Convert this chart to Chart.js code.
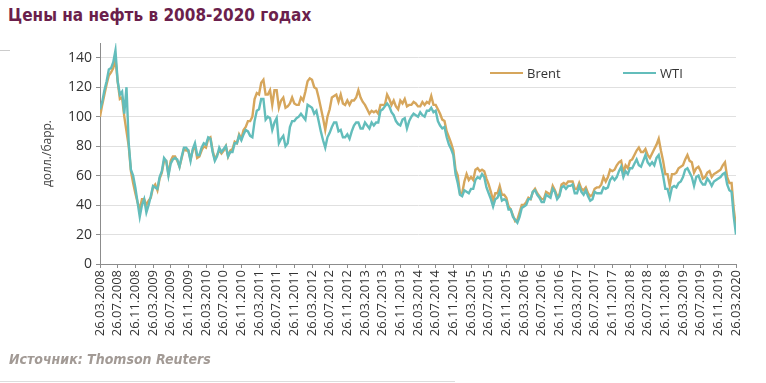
<!DOCTYPE html>
<html lang="ru">
<head>
    <meta charset="UTF-8">
    <title>Цены на нефть в 2008-2020 годах</title>
    <script src="https://cdn.jsdelivr.net/npm/chart.js"></script>
    <style>
        body {
            margin: 0;
            width: 766px;
            height: 383px;
            background: #fff;
            position: relative;
            overflow: hidden;
            font-family: "DejaVu Sans Condensed", "DejaVu Sans", sans-serif;
        }
        h1 {
            position: absolute;
            left: 8px;
            top: 5px;
            margin: 0;
            font-size: 17px;
            font-weight: bold;
            color: #6b1f4c;
        }
        .source {
            position: absolute;
            left: 9px;
            top: 351px;
            font-size: 14px;
            font-weight: bold;
            font-style: italic;
            color: #a29a95;
        }
        .frame-left {
            position: absolute;
            left: 0; top: 50px;
            width: 10px; height: 1px;
            background: #ccc;
        }
        .frame-bottom {
            position: absolute;
            left: 0; top: 381px;
            width: 455px; height: 1px;
            background: #ddd;
        }
        .legend {
            position: absolute;
            top: 64px;
            font-family: "Open Sans", sans-serif;
            font-size: 13px;
            color: #333;
            display: flex;
            align-items: center;
        }
        .legend i {
            display: inline-block;
            width: 33px;
            height: 2px;
            margin-right: 4px;
        }
        #wrap {
            position: absolute;
            left: 0; top: 0;
            width: 766px; height: 383px;
        }
    </style>
</head>
<body>
    <h1>Цены на нефть в 2008-2020 годах</h1>
    <div class="frame-left"></div>
    <div class="frame-bottom"></div>

    <div id="wrap"><canvas id="oilChart"></canvas></div>

    <div class="legend" style="left:490px"><i style="background:#d6a65c"></i>Brent</div>
    <div class="legend" style="left:623px"><i style="background:#63bdbb"></i>WTI</div>

    <div class="source">Источник: Thomson Reuters</div>

    <script>
        // tick labels every 4 months
        const tickLabels = [
            '26.03.2008', '26.07.2008', '26.11.2008',
            '26.03.2009', '26.07.2009', '26.11.2009',
            '26.03.2010', '26.07.2010', '26.11.2010',
            '26.03.2011', '26.07.2011', '26.11.2011',
            '26.03.2012', '26.07.2012', '26.11.2012',
            '26.03.2013', '26.07.2013', '26.11.2013',
            '26.03.2014', '26.07.2014', '26.11.2014',
            '26.03.2015', '26.07.2015', '26.11.2015',
            '26.03.2016', '26.07.2016', '26.11.2016',
            '26.03.2017', '26.07.2017', '26.11.2017',
            '26.03.2018', '26.07.2018', '26.11.2018',
            '26.03.2019', '26.07.2019', '26.11.2019',
            '26.03.2020'
        ];
        const yTicks = [0, 20, 40, 60, 80, 100, 120, 140];

        // prices, USD/bbl, sampled twice a month (26th and 10th) from 26.03.2008
        const brent = [
            100, 108, 115, 122, 128, 130, 133, 139, 124, 112, 113, 100, 90, 80, 63, 55, 48, 42, 37, 44, 44, 40, 43, 45,
            52, 54, 50, 58, 62, 70, 70, 61, 70, 73, 73, 70, 66, 72, 78, 77, 77, 71, 77, 80, 72, 73, 77, 80,
            79, 85, 86, 77, 71, 74, 77, 75, 77, 80, 73, 77, 78, 83, 82, 88, 85, 91, 93, 97, 97, 100, 112, 116,
            115, 123, 125, 115, 115, 118, 108, 118, 118, 106, 111, 113, 106, 107, 109, 113, 109, 108, 108, 113, 111, 117, 124, 126,
            125, 120, 119, 113, 106, 99, 91, 100, 105, 113, 114, 115, 110, 115, 109, 108, 111, 108, 111, 111, 113, 118, 113, 110,
            108, 105, 102, 104, 103, 104, 102, 108, 108, 108, 115, 112, 108, 111, 107, 105, 111, 109, 112, 107, 108, 108, 110, 109,
            107, 107, 110, 108, 110, 109, 114, 108, 108, 105, 102, 98, 97, 90, 86, 82, 77, 64, 60, 48, 48, 56, 61, 57,
            59, 57, 64, 65, 63, 64, 63, 58, 54, 49, 43, 48, 48, 53, 47, 47, 45, 39, 37, 33, 29, 30, 35, 40,
            40, 42, 45, 44, 49, 51, 48, 46, 44, 44, 49, 48, 47, 53, 50, 46, 47, 54, 55, 54, 56, 56, 56, 51,
            51, 55, 51, 50, 52, 48, 46, 47, 51, 52, 52, 54, 59, 56, 59, 64, 63, 64, 67, 69, 70, 62, 67, 65,
            70, 71, 74, 77, 79, 76, 76, 78, 74, 72, 75, 78, 81, 85, 77, 70, 61, 61, 53, 61, 61, 62, 65, 66,
            67, 71, 74, 70, 69, 62, 65, 66, 63, 58, 59, 62, 63, 59, 61, 62, 63, 64, 67, 69, 59, 55, 55, 37,
            25
        ];
        const wti = [
            105, 110, 118, 124, 132, 133, 137, 145, 124, 115, 117, 102, 120, 82, 64, 60, 52, 42, 32, 40, 44, 35, 40, 46,
            53, 52, 51, 59, 63, 72, 70, 60, 68, 71, 72, 71, 66, 73, 79, 79, 77, 70, 78, 82, 74, 74, 79, 82,
            81, 86, 85, 76, 70, 73, 79, 76, 78, 80, 73, 76, 76, 82, 82, 87, 84, 88, 91, 90, 87, 86, 97, 104,
            105, 112, 112, 98, 100, 99, 91, 96, 99, 82, 85, 87, 80, 82, 93, 97, 97, 99, 100, 102, 100, 98, 108, 107,
            106, 102, 104, 97, 90, 84, 79, 86, 89, 93, 96, 96, 90, 91, 86, 86, 88, 85, 90, 94, 96, 96, 92, 92,
            96, 94, 92, 96, 94, 96, 96, 104, 105, 107, 109, 107, 103, 101, 97, 95, 94, 98, 99, 92, 97, 100, 102, 101,
            100, 103, 101, 100, 104, 104, 106, 103, 104, 97, 94, 92, 93, 86, 81, 78, 74, 61, 55, 47, 46, 50, 49, 48,
            51, 51, 57, 59, 58, 61, 59, 52, 48, 44, 39, 44, 45, 49, 43, 44, 43, 37, 37, 32, 30, 28, 32, 38,
            39, 40, 44, 44, 49, 50, 47, 45, 42, 42, 47, 46, 45, 51, 49, 44, 46, 52, 53, 51, 53, 53, 54, 48,
            48, 53, 49, 47, 50, 46, 43, 44, 49, 48, 48, 48, 52, 51, 52, 57, 59, 57, 59, 63, 66, 59, 63, 61,
            65, 65, 68, 71, 67, 66, 70, 74, 69, 67, 69, 67, 72, 74, 67, 60, 51, 51, 45, 52, 53, 52, 55, 56,
            59, 64, 65, 62, 59, 53, 59, 60, 56, 54, 54, 58, 56, 53, 56, 57, 58, 59, 61, 62, 54, 50, 49, 32,
            20
        ];

        // x = months since 26.03.2008 (half-month steps)
        const toPoints = arr => arr.map((v, i) => ({ x: i / 2, y: v }));

        new Chart(document.getElementById('oilChart'), {
            type: 'line',
            data: {
                datasets: [
                    {
                        label: 'Brent',
                        data: toPoints(brent),
                        borderColor: '#d6a65c',
                        borderWidth: 2.4,
                        pointRadius: 0,
                        tension: 0,
                        order: 1
                    },
                    {
                        label: 'WTI',
                        data: toPoints(wti),
                        borderColor: '#63bdbb',
                        borderWidth: 2.4,
                        pointRadius: 0,
                        tension: 0,
                        order: 0
                    }
                ]
            },
            options: {
                responsive: true,
                maintainAspectRatio: false,
                animation: false,
                layout: {
                    padding: { left: 40, right: 30, top: 43, bottom: 37 }
                },
                plugins: {
                    legend: { display: false },
                    tooltip: { enabled: false }
                },
                scales: {
                    x: {
                        type: 'linear',
                        min: 0,
                        max: 144,
                        afterBuildTicks: axis => {
                            axis.ticks = tickLabels.map((t, i) => ({ value: i * 4 }));
                        },
                        afterFit: axis => { axis.height = 82; },
                        border: { color: '#8c8c8c' },
                        grid: {
                            drawOnChartArea: false,
                            tickLength: 4,
                            tickColor: '#8c8c8c'
                        },
                        ticks: {
                            autoSkip: false,
                            maxRotation: 90,
                            minRotation: 90,
                            padding: 2,
                            color: '#333',
                            font: { family: 'Open Sans', size: 13 },
                            callback: (value, index) => tickLabels[index]
                        }
                    },
                    y: {
                        min: 0,
                        max: 150,
                        afterBuildTicks: axis => {
                            axis.ticks = yTicks.map(v => ({ value: v }));
                        },
                        afterFit: axis => { axis.width = 60; },
                        border: { color: '#8c8c8c' },
                        grid: {
                            color: '#e0e0e0',
                            tickLength: 4,
                            tickColor: '#8c8c8c'
                        },
                        ticks: {
                            padding: 4,
                            color: '#333',
                            font: { family: 'Open Sans', size: 14 }
                        },
                        title: {
                            display: true,
                            text: 'долл./барр.',
                            color: '#444',
                            padding: 0,
                            font: { family: 'Open Sans', size: 12 }
                        }
                    }
                }
            }
        });
    </script>
</body>
</html>
